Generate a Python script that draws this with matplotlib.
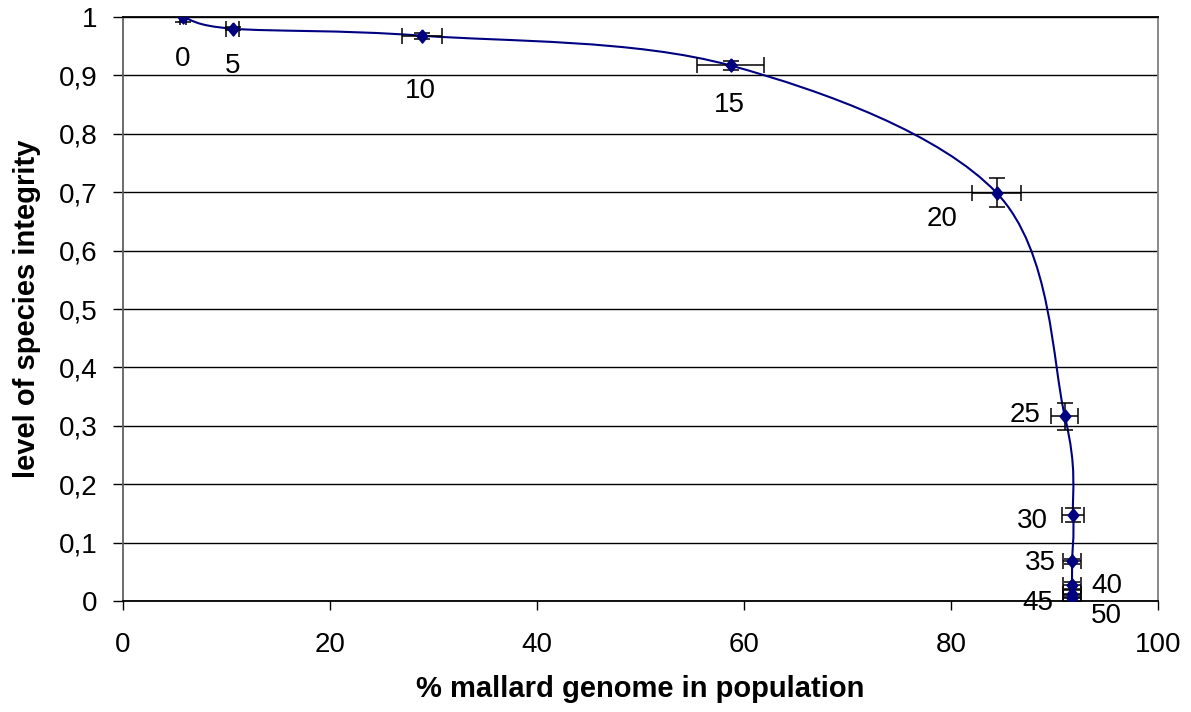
import matplotlib.pyplot as plt
from matplotlib.path import Path
from matplotlib.patches import PathPatch
from matplotlib.ticker import FuncFormatter
import numpy as np

plt.rcParams['font.family'] = ['Liberation Sans', 'DejaVu Sans']

# generations and measured values
generations = [0, 5, 10, 15, 20, 25, 30, 35, 40, 45, 50]
mallard_pct = [5.8, 10.6, 28.9, 58.7, 84.4, 91.0, 91.8, 91.7, 91.7, 91.7, 91.7]
integrity = [1.0, 0.980, 0.968, 0.917, 0.699, 0.316, 0.148, 0.068, 0.027, 0.012, 0.005]
mallard_err = [0.3, 0.65, 1.9, 3.2, 2.4, 1.3, 1.05, 0.9, 0.9, 0.9, 0.9]
integrity_err = [0.008, 0.003, 0.005, 0.008, 0.025, 0.023, 0.012, 0.004, 0.006, 0.006, 0.006]

# label offsets in points (dx, dy)
label_offsets = [(0, -30), (0, -26.5), (-1.5, -40), (-1, -28.5), (-39.5, -18.7),
                 (-29, 1.4), (-29, -4.3), (-23, -1.4), (25, -0.7), (-25, -6.5),
                 (25, -13)]

fig = plt.figure(figsize=(11.91, 7.12), dpi=100)
ax = fig.add_axes([0.1033, 0.1559, 0.869, 0.8202])

# smoothed line (bezier, excel style)
x = np.array(mallard_pct)
y = np.array(integrity)
pts = np.column_stack([x, y])
verts = [pts[0]]
codes = [Path.MOVETO]
n = len(pts)
for i in range(n - 1):
    p0 = pts[i - 1] if i > 0 else pts[i]
    p1 = pts[i]
    p2 = pts[i + 1]
    p3 = pts[i + 2] if i + 2 < n else pts[i + 1]
    c1 = p1 + (p2 - p0) / 6.0
    c2 = p2 - (p3 - p1) / 6.0
    verts += [c1, c2, p2]
    codes += [Path.CURVE4] * 3
ax.add_patch(PathPatch(Path(verts, codes), facecolor='none', edgecolor='#000080',
                       lw=1.5, zorder=3))

ax.errorbar(mallard_pct, integrity, xerr=mallard_err, yerr=integrity_err,
            fmt='none', ecolor='black', elinewidth=1.1, capsize=6, capthick=1.1,
            zorder=4)

# slightly tall diamond
diamond = [(0, 1), (0.82, 0), (0, -1), (-0.82, 0), (0, 1)]
ax.plot(mallard_pct, integrity, linestyle='none', marker=diamond, markersize=9.5,
        color='#000080', zorder=5)

for g, xv, yv, off in zip(generations, mallard_pct, integrity, label_offsets):
    ax.annotate(str(g), (xv, yv), xytext=off, textcoords='offset points',
                ha='center', va='center', fontsize=20, zorder=6)

ax.set_xlim(0, 100)
ax.set_ylim(0, 1)
ax.set_xticks(np.arange(0, 101, 20))
ax.set_yticks(np.arange(0, 1.01, 0.1))
ax.yaxis.set_major_formatter(FuncFormatter(
    lambda v, p: ('%g' % round(v, 1)).replace('.', ',')))
ax.yaxis.grid(True, color='black', lw=1)
ax.set_axisbelow(True)

ax.spines['left'].set_color('#606060')
ax.spines['right'].set_color('#808080')
ax.spines['top'].set_color('black')
ax.spines['bottom'].set_color('black')
for s in ax.spines.values():
    s.set_linewidth(1.3)
ax.tick_params(axis='both', direction='out', width=1, labelsize=20,
               colors='black')
ax.tick_params(axis='y', length=7.2, pad=11)
ax.tick_params(axis='x', length=6.5, pad=16)

ax.set_xlabel('% mallard genome in population', fontsize=21, fontweight='bold',
              labelpad=12)
ax.set_ylabel('level of species integrity', fontsize=21, fontweight='bold',
              labelpad=13)

fig.savefig('out.png', dpi=100)
